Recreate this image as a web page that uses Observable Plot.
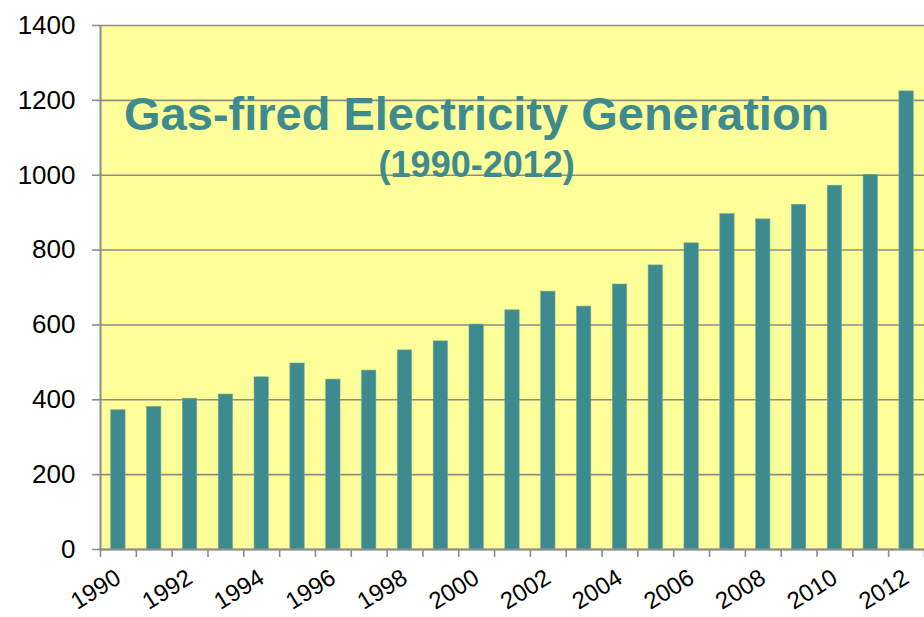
<!DOCTYPE html>
<html>
<head>
<meta charset="utf-8">
<script src="https://cdn.jsdelivr.net/npm/d3@7"></script>
<script src="https://cdn.jsdelivr.net/npm/@observablehq/plot@0.6"></script>
<style>
  html, body { margin: 0; padding: 0; background: #fff; }
  #chart svg { display: block; }
</style>
</head>
<body>
<div id="chart"></div>
<script>
const years = [1990,1991,1992,1993,1994,1995,1996,1997,1998,1999,2000,2001,2002,2003,2004,2005,2006,2007,2008,2009,2010,2011,2012];
const generation = [372,381,403,414,460,497,454,478,532,556,601,639,689,649,708,759,818,896,882,921,972,1001,1224];
const yTicks = [0,200,400,600,800,1000,1200,1400];
const xLabelYears = [1990,1992,1994,1996,1998,2000,2002,2004,2006,2008,2010,2012];
const titleText = "Gas-fired Electricity Generation";
const subtitleText = "(1990-2012)";

const data = years.map((y, i) => ({year: y, value: generation[i]}));
const boundaries = years.map(y => y - 0.5).concat([years[years.length - 1] + 0.5]);

const teal = "#3d8b8f";
const gray = "#8c8c8c";
const half = 0.2;

const chart = Plot.plot({
  width: 924,
  height: 617,
  marginLeft: 100,
  marginRight: 0,
  marginTop: 25,
  marginBottom: 68,
  style: {fontFamily: "'Liberation Sans', Arial, sans-serif", background: "#fff", overflow: "visible"},
  x: {type: "linear", domain: [years[0] - 0.5, years[years.length - 1] + 0.5]},
  y: {domain: [0, 1400]},
  marks: [
    Plot.frame({fill: "#ffff99", stroke: "none"}),
    Plot.gridY(yTicks, {stroke: gray, strokeOpacity: 1, strokeWidth: 1.6}),
    Plot.rectY(data, {x1: d => d.year - half, x2: d => d.year + half, y1: 0, y2: "value", fill: teal, stroke: "#6fa89a", strokeWidth: 0.6}),
    Plot.axisY(yTicks, {tickSize: 8, tickPadding: 17, fontSize: 26, fill: "#000", stroke: gray, strokeWidth: 1.6, label: null, tickFormat: d => String(d)}),
    Plot.ruleX([years[0] - 0.5], {stroke: gray, strokeWidth: 2}),
    Plot.ruleY([0], {stroke: gray, strokeWidth: 2}),
    Plot.axisX(boundaries, {tickSize: 8, tickFormat: () => "", stroke: gray, strokeWidth: 1.6, label: null}),
    Plot.axisX(xLabelYears, {tickSize: 0, tickPadding: 26, tickRotate: -32, fontSize: 24, fill: "#000", label: null, tickFormat: d => String(d)}),
    Plot.text([titleText], {x: 2000, y: 1160, text: d => d, fontSize: 47, fontWeight: "bold", fill: teal, textAnchor: "middle", lineAnchor: "middle"}),
    Plot.text([subtitleText], {x: 2000, y: 1025, text: d => d, fontSize: 36, fontWeight: "bold", fill: teal, textAnchor: "middle", lineAnchor: "middle"})
  ]
});
document.getElementById("chart").appendChild(chart);
</script>
</body>
</html>
